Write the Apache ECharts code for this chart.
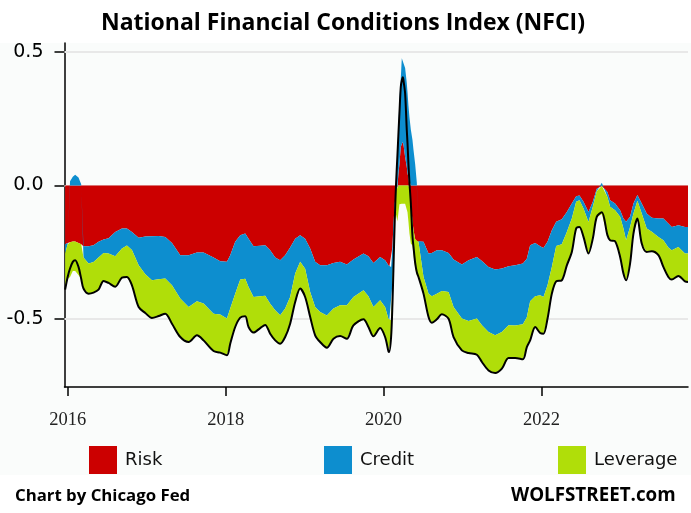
<!DOCTYPE html>
<html>
<head>
<meta charset="utf-8">
<style>html,body{margin:0;padding:0;background:#fff}#chart{width:691px;height:513px}</style>
<script src="https://cdn.jsdelivr.net/npm/echarts@6/dist/echarts.min.js"></script>
</head>
<body>
<div id="chart"></div>
<script>
// x in decimal years
const dates = [
  2015.968,2016.0,2016.03,2016.065,2016.095,2016.137,2016.171,2016.2,2016.264,2016.327,
  2016.39,2016.454,2016.517,2016.601,2016.686,2016.749,2016.812,2016.897,2016.981,2017.065,
  2017.15,2017.234,2017.319,2017.424,2017.53,2017.635,2017.719,2017.846,2017.93,2018.015,
  2018.057,2018.12,2018.184,2018.247,2018.289,2018.352,2018.437,2018.5,2018.563,2018.627,
  2018.69,2018.753,2018.816,2018.88,2018.943,2019.006,2019.07,2019.133,2019.196,2019.281,
  2019.365,2019.449,2019.534,2019.618,2019.745,2019.808,2019.871,2019.956,2020.019,2020.061,
  2020.07,2020.095,2020.112,2020.124,2020.141,2020.158,2020.175,2020.188,2020.2,2020.217,
  2020.23,2020.243,2020.253,2020.272,2020.293,2020.302,2020.314,2020.327,2020.344,2020.365,
  2020.378,2020.399,2020.42,2020.441,2020.504,2020.568,2020.61,2020.673,2020.736,2020.821,
  2020.884,2020.989,2021.074,2021.179,2021.243,2021.327,2021.411,2021.496,2021.58,2021.665,
  2021.762,2021.812,2021.854,2021.918,2021.981,2022.023,2022.074,2022.129,2022.184,2022.255,
  2022.319,2022.382,2022.437,2022.479,2022.53,2022.593,2022.648,2022.698,2022.762,2022.833,
  2022.867,2022.93,2022.994,2023.036,2023.07,2023.12,2023.163,2023.213,2023.268,2023.331,
  2023.395,2023.479,2023.542,2023.605,2023.648,2023.732,2023.816,2023.854
];
const risk = [
  -.22,-.215,-.2125,-.21,-.21,-.215,-.22,-.2275,-.2275,-.224,
  -.211,-.2025,-.1975,-.174,-.161,-.161,-.174,-.196,-.191,-.19,
  -.189,-.1925,-.215,-.261,-.261,-.251,-.251,-.27,-.284,-.286,
  -.261,-.211,-.186,-.18,-.199,-.2275,-.226,-.224,-.2425,-.27,
  -.28,-.261,-.2325,-.199,-.186,-.199,-.236,-.286,-.299,-.299,
  -.29,-.286,-.296,-.2775,-.255,-.265,-.29,-.2675,-.28,-.299,
  -.309,-.305,-.23,-.149,-.0675,-.02,-.005,.047,.08,.144,
  .155,.163,.15,.107,.07,.047,.03,-.01,-.06,-.135,
  -.167,-.2,-.21,-.2075,-.211,-.255,-.2525,-.2425,-.2425,-.2525,
  -.2775,-.296,-.28,-.2675,-.2825,-.305,-.315,-.311,-.3025,-.299,
  -.2925,-.274,-.224,-.215,-.2275,-.234,-.211,-.1675,-.136,-.126,
  -.099,-.0675,-.04,-.0375,-.061,-.099,-.061,-.0125,-.002,-.024,
  -.055,-.0675,-.0925,-.124,-.136,-.1175,-.0675,-.036,-.0675,-.105,
  -.121,-.124,-.124,-.1425,-.155,-.149,-.155,-.155
];
const credit = [
  -.035,-.005,.016,.0325,.04,.03,.005,-.0425,-.065,-.0625,
  -.059,-.05,-.0575,-.091,-.075,-.064,-.0675,-.1025,-.141,-.165,
  -.1625,-.156,-.159,-.1625,-.194,-.1825,-.191,-.21,-.199,-.2125,
  -.2,-.194,-.166,-.169,-.181,-.19,-.189,-.189,-.2,-.1975,
  -.206,-.2,-.185,-.131,-.1,-.1125,-.1625,-.169,-.175,-.1875,
  -.171,-.1625,-.1525,-.14,-.1375,-.15,-.165,-.1625,-.175,-.2,
  -.2025,-.2,-.1375,-.106,-.0375,.02,.133,.18,.24,.256,
  .322,.314,.325,.333,.314,.303,.27,.256,.21,.17,
  .133,.08,.01,-.004,-.131,-.15,-.1625,-.1625,-.1525,-.146,
  -.1775,-.2025,-.2275,-.231,-.241,-.244,-.246,-.2375,-.221,-.225,
  -.2275,-.219,-.21,-.2,-.184,-.184,-.1625,-.1375,-.091,-.094,
  -.075,-.056,-.021,-.0175,-.025,-.0375,-.019,-.009,.01,-.019,
  -.025,-.025,-.025,-.0375,-.069,-.0375,-.0375,-.021,-.0375,-.056,
  -.0525,-.069,-.081,-.09,-.0875,-.081,-.1,-.1
];
const leverage = [
  -.135,-.13,-.13,-.11,-.11,-.12,-.13,-.116,-.1125,-.115,
  -.12,-.105,-.11,-.114,-.109,-.118,-.131,-.156,-.145,-.141,
  -.139,-.131,-.144,-.144,-.131,-.1275,-.1375,-.1425,-.144,-.1375,
  -.131,-.125,-.1425,-.141,-.15,-.134,-.119,-.109,-.1125,-.1125,
  -.106,-.106,-.1,-.106,-.1,-.106,-.094,-.106,-.1125,-.121,
  -.1125,-.115,-.125,-.106,-.109,-.115,-.11,-.104,-.1125,-.1225,
  -.1125,-.0625,-.075,-.0625,-.025,-.09,-.13,-.1,-.07,-.068,
  -.068,-.068,-.068,-.068,-.07,-.1,-.136,-.17,-.1575,-.09,
  -.093,-.11,-.125,-.131,-.0625,-.0875,-.099,-.096,-.0875,-.1,
  -.1125,-.119,-.12,-.135,-.1375,-.144,-.141,-.1375,-.1225,-.1225,
  -.131,-.1125,-.146,-.115,-.141,-.1375,-.125,-.1,-.131,-.135,
  -.125,-.125,-.1,-.1,-.106,-.119,-.119,-.0975,-.105,-.144,
  -.125,-.116,-.15,-.169,-.15,-.1375,-.075,-.066,-.1125,-.0875,
  -.0725,-.069,-.1,-.11,-.11,-.109,-.104,-.106
];
const nfci = [
  -.39,-.3425,-.311,-.286,-.28,-.305,-.349,-.386,-.405,-.401,
  -.39,-.3575,-.365,-.379,-.345,-.3425,-.374,-.455,-.4775,-.496,
  -.489,-.48,-.5175,-.5675,-.586,-.561,-.58,-.62,-.626,-.636,
  -.5925,-.53,-.495,-.49,-.53,-.551,-.534,-.5225,-.555,-.58,
  -.5925,-.5675,-.5175,-.436,-.386,-.4175,-.4925,-.561,-.586,-.6075,
  -.574,-.564,-.574,-.524,-.501,-.53,-.565,-.534,-.5675,-.621,
  -.624,-.5675,-.4425,-.3175,-.13,.01,.114,.197,.27,.369,
  .393,.405,.39,.345,.208,.16,.08,.01,-.066,-.19,
  -.23,-.29,-.325,-.3425,-.405,-.4925,-.514,-.501,-.4825,-.499,
  -.5675,-.6175,-.6275,-.634,-.661,-.6925,-.7025,-.686,-.646,-.646,
  -.651,-.605,-.58,-.53,-.5525,-.555,-.499,-.405,-.359,-.355,
  -.299,-.249,-.161,-.155,-.1925,-.255,-.199,-.1175,-.1,-.186,
  -.205,-.209,-.2675,-.33,-.355,-.2925,-.18,-.124,-.2175,-.249,
  -.246,-.261,-.305,-.3425,-.3525,-.339,-.359,-.361
];
const yearTicks = [2016, 2018, 2020, 2022];
const valueTicks = [-0.5, 0, 0.5];
const xStart = 2015.96;
const xEnd = 2023.854;

const chart = echarts.init(document.getElementById('chart'));

// decimal year to timestamp, stacking needs a time x axis under the series
const toTime = (y) => {
  const whole = Math.floor(y);
  const start = Date.UTC(whole, 0, 1);
  return start + (y - whole) * (Date.UTC(whole + 1, 0, 1) - start);
};

const pairs = (values) => dates.map((d, i) => [toTime(d), values[i]]);

const areaSeries = (name, values, color) => ({
  name: name,
  type: 'line',
  stack: 'nfci',
  data: pairs(values),
  symbol: 'none',
  lineStyle: { width: 0 },
  itemStyle: { color: color },
  areaStyle: { color: color, opacity: 1 }
});

const legendItem = (name, left) => ({
  data: [{ name: name, icon: 'rect' }],
  left: left,
  top: 446,
  itemWidth: 28,
  itemHeight: 28,
  itemGap: 0,
  padding: 0,
  selectedMode: false,
  textStyle: { color: '#111', fontSize: 18, fontFamily: 'DejaVu Sans', verticalAlign: 'top', padding: [-8, 0, 0, 3] }
});

chart.setOption({
  animation: false,
  useUTC: true,
  backgroundColor: '#fff',
  textStyle: { fontFamily: 'DejaVu Sans' },
  graphic: [
    { type: 'rect', z: -10, shape: { x: 0, y: 43, width: 691, height: 432 }, style: { fill: '#fafcfb' } }
  ],
  title: [
    { text: 'National Financial Conditions Index (NFCI)', left: 338, top: 7, textAlign: 'center',
      textStyle: { fontFamily: 'Open Sans', fontWeight: 'bold', fontSize: 23, color: '#000' } },
    { text: 'Chart by Chicago Fed', left: 10, top: 483,
      textStyle: { fontFamily: 'Open Sans', fontWeight: 'bold', fontSize: 16.8, color: '#000' } },
    { text: 'WOLFSTREET.com', left: 506, top: 481,
      textStyle: { fontFamily: 'Open Sans', fontWeight: 'bold', fontSize: 18.8, color: '#000' } }
  ],
  legend: [legendItem('Risk', 89), legendItem('Credit', 324), legendItem('Leverage', 558)],
  grid: { left: 64.5, right: 3, top: 43, bottom: 126 },
  xAxis: [
    // carries the data
    { type: 'time', min: toTime(xStart), max: toTime(xEnd), show: false },
    // carries the ticks and labels, time axis can't start its ticks on even years here
    {
      type: 'value',
      position: 'bottom',
      min: xStart,
      max: xEnd,
      splitLine: { show: false },
      axisLine: { show: true, onZero: false, lineStyle: { color: '#000', width: 1.5 } },
      axisTick: { show: true, customValues: yearTicks, length: 9, lineStyle: { color: '#000', width: 1.5 } },
      axisLabel: {
        customValues: yearTicks,
        formatter: (v) => String(v),
        margin: 24,
        color: '#222',
        fontFamily: 'Liberation Serif',
        fontSize: 18.5
      }
    }
  ],
  yAxis: {
    type: 'value',
    min: -0.7547,
    max: 0.5337,
    splitLine: { show: false },
    axisLine: { show: true, onZero: false, lineStyle: { color: '#000', width: 1.5 } },
    axisTick: { customValues: valueTicks, length: 10, lineStyle: { color: '#000', width: 1.5 } },
    axisLabel: {
      customValues: valueTicks,
      formatter: (v) => v.toFixed(1),
      margin: 21,
      padding: [4, 0, 0, 0],
      color: '#000',
      fontFamily: 'DejaVu Sans',
      fontSize: 19
    }
  },
  series: [
    {
      type: 'line',
      data: [],
      z: 1,
      markLine: {
        z: 1,
        silent: true,
        symbol: 'none',
        label: { show: false },
        lineStyle: { color: '#e8e8e8', width: 2, type: 'solid' },
        data: valueTicks.map((v) => ({ yAxis: v }))
      }
    },
    areaSeries('Risk', risk, '#cc0000'),
    areaSeries('Credit', credit, '#0d8ecf'),
    areaSeries('Leverage', leverage, '#b0de09'),
    {
      name: 'NFCI',
      type: 'line',
      data: pairs(nfci),
      symbol: 'none',
      smooth: 0.3,
      z: 5,
      lineStyle: { color: '#000', width: 2 }
    }
  ]
});
</script>
</body>
</html>
